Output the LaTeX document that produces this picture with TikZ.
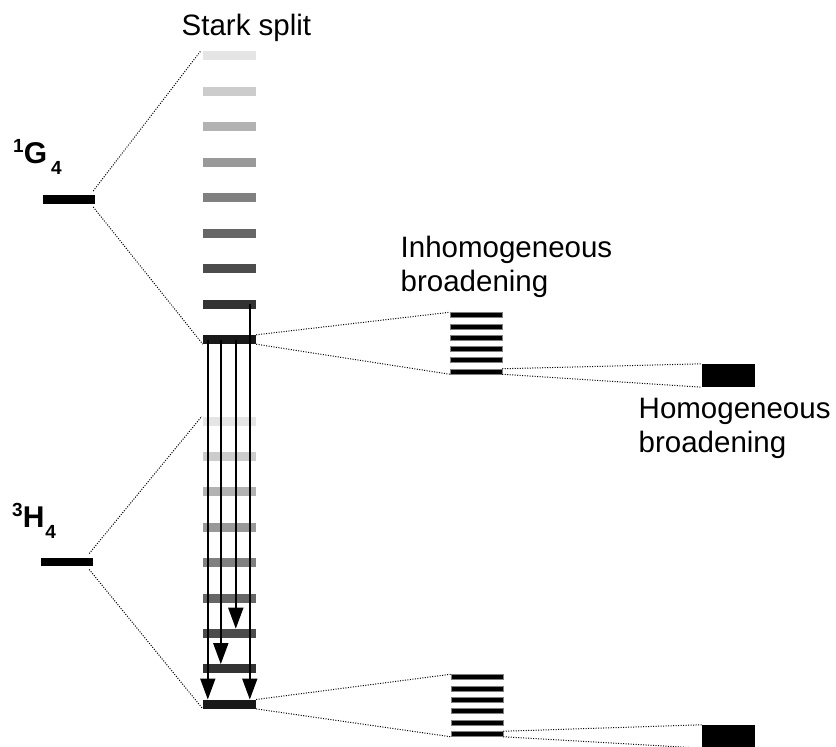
\documentclass[tikz,border=0pt]{standalone}
\usepackage{fontspec}
\setmainfont{Liberation Sans}
\usetikzlibrary{arrows.meta}
\begin{document}
\begin{tikzpicture}[x=1pt,y=-1pt,
  bar/.style={draw=none, rectangle, inner sep=0, minimum width=53pt, minimum height=9pt},
  lvl/.style={fill=black, rectangle, inner sep=0, minimum width=52pt, minimum height=8.5pt},
  ib/.style={fill=black, draw=black!50, line width=0.5pt, rectangle, inner sep=0, minimum width=52pt, minimum height=5pt},
  hb/.style={fill=black, rectangle, inner sep=0, minimum width=53pt, minimum height=23pt},
  dots/.style={draw=black, line width=1pt, dash pattern=on 1pt off 1.5pt},
  arr/.style={draw=black, line width=1.8pt, -{Triangle[width=15pt,length=21pt]}},
  txt/.style={font=\fontsize{29.5}{34}\selectfont, inner sep=0, anchor=base west},
  lab/.style={inner sep=0, anchor=base west}]
\useasboundingbox (0,0) rectangle (836,747);
% Stark split levels
\foreach \i/\g in {1/10,2/20,3/30,4/40,5/50,6/60,7/70,8/80,9/90}{
  \node[bar, fill=black!\g] (u\i) at (229.5,{55.5+35.5*(\i-1)}) {};
  \node[bar, fill=black!\g] (l\i) at (229.5,{421+35.4*(\i-1)}) {};
}
% manifold levels
\node[lvl] (g) at (69,199.5) {};
\node[lvl] (h) at (67,562) {};
% inhomogeneous stacks
\foreach \i in {1,...,6}{
  \node[ib] (a\i) at (476,{315+11.3*(\i-1)}) {};
  \node[ib] (b\i) at (477,{677+11.4*(\i-1)}) {};
}
% homogeneous blocks
\node[hb] (p) at (728.5,375.5) {};
\node[hb] (q) at (728.5,736.5) {};
% dotted connectors
\draw[dots] ([shift={(-2pt,4pt)}]g.north east) -- ([xshift=-2pt]u1.north west);
\draw[dots] ([shift={(-2pt,-3pt)}]g.south east) -- (u9.south west);
\draw[dots] ([shift={(-4pt,4pt)}]h.north east) -- ([xshift=-1pt]l1.north west);
\draw[dots] ([shift={(-4pt,-3pt)}]h.south east) -- (l9.south west);
\draw[dots] (u9.north east) -- (a1.north west);
\draw[dots] (u9.south east) -- (a6.south west);
\draw[dots] (a6.north east) -- (p.north west);
\draw[dots] (a6.south east) -- (p.south west);
\draw[dots] (l9.north east) -- (b1.north west);
\draw[dots] (l9.south east) -- (b6.south west);
\draw[dots] (b6.north east) -- (q.north west);
\draw[dots] (b6.south east) -- (q.south west);
% transitions
\draw[arr] ([xshift=5pt]u9.west) -- ([xshift=5pt]l9.north west);
\draw[arr] ([xshift=18pt]u9.west) -- ([xshift=18pt]l8.north west);
\draw[arr] ([xshift=33pt]u9.west) -- ([xshift=33pt]l7.north west);
\draw[arr] ([xshift=47pt]u8.west) -- ([xshift=47pt]l9.north west);
% texts
\node[txt] (ss) at (181.5,35) {Stark split};
\node[txt] (i1) at (400.5,257) {Inhomogeneous};
\node[txt] (i2) at (400.5,291) {broadening};
\node[txt] (o1) at (638.5,418) {Homogeneous};
\node[txt] (o2) at (638.5,452) {broadening};
\node[lab] (gl) at (13,163) {\bfseries\raisebox{11pt}{\fontsize{19}{19}\selectfont 1}\fontsize{30}{30}\selectfont G\kern4pt\raisebox{-11pt}{\fontsize{19}{19}\selectfont 4}};
\node[lab] (hl) at (12,527) {\bfseries\raisebox{11pt}{\fontsize{19}{19}\selectfont 3}\fontsize{30}{30}\selectfont H\kern1pt\raisebox{-11pt}{\fontsize{19}{19}\selectfont 4}};
\end{tikzpicture}
\end{document}
